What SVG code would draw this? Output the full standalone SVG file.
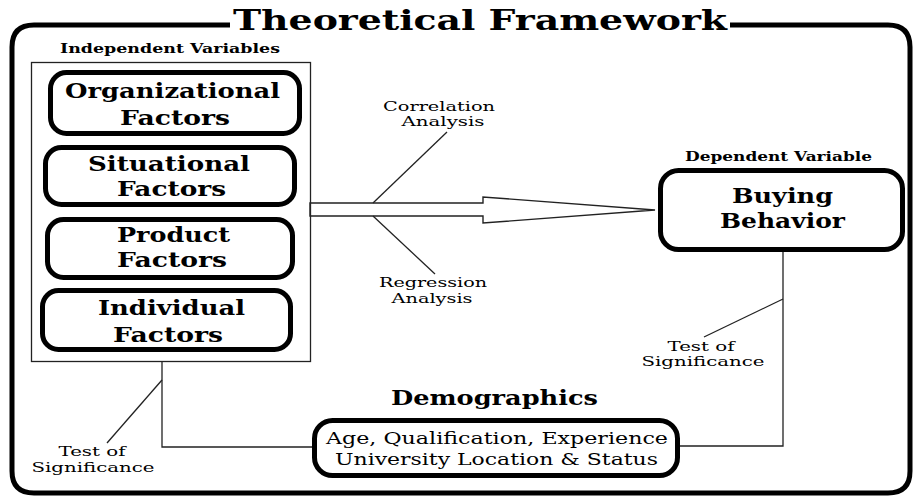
<svg xmlns="http://www.w3.org/2000/svg" width="914" height="496" viewBox="0 0 914 496">
  <style>
    text { font-family: "DejaVu Serif", "Liberation Serif", serif; fill: #000; }
    .title { font-size: 28px; font-weight: bold; }
    .head { font-size: 13px; font-weight: bold; }
    .node-text { font-size: 21px; font-weight: bold; text-anchor: middle; }
    .label { font-size: 13px; text-anchor: middle; }
    .demo { font-size: 17px; text-anchor: middle; }
    .frame { fill: none; stroke: #000; stroke-width: 5; }
    .node { fill: #fff; stroke: #000; stroke-width: 5; }
    .thin { fill: none; stroke: #222; stroke-width: 1.3; }
  </style>

  <!-- outer framework border with a gap for the heading -->
  <g id="frame">
    <path class="frame" d="M230,25 H34 Q12,25 12,47 V471 Q12,493 34,493 H888 Q910,493 910,471 V47 Q910,25 888,25 H730"/>
    <text class="title" x="233" y="30" textLength="494" lengthAdjust="spacingAndGlyphs">Theoretical Framework</text>
  </g>

  <!-- connectors -->
  <g id="connectors">
    <polygon points="310,203 483,203 483,197 655,210 483,223 483,216 310,216" fill="#fff" stroke="#222" stroke-width="1.4" stroke-linejoin="miter"/>
    <line class="thin" x1="373" y1="203" x2="447" y2="132"/>
    <line class="thin" x1="373" y1="216" x2="435" y2="274"/>
    <polyline class="thin" points="162,361 162,447 312,447"/>
    <line class="thin" x1="162" y1="380" x2="107" y2="443"/>
    <polyline class="thin" points="783,252 783,446 680,446"/>
    <line class="thin" x1="783" y1="299" x2="704" y2="337"/>
  </g>

  <!-- connector labels -->
  <g id="labels">
    <text class="label" x="439" y="111" textLength="112" lengthAdjust="spacingAndGlyphs">Correlation</text>
    <text class="label" x="443" y="126" textLength="83" lengthAdjust="spacingAndGlyphs">Analysis</text>
    <text class="label" x="433" y="287" textLength="108" lengthAdjust="spacingAndGlyphs">Regression</text>
    <text class="label" x="432" y="303" textLength="81" lengthAdjust="spacingAndGlyphs">Analysis</text>
    <text class="label" x="701" y="351" textLength="67" lengthAdjust="spacingAndGlyphs">Test of</text>
    <text class="label" x="703" y="366" textLength="123" lengthAdjust="spacingAndGlyphs">Significance</text>
    <text class="label" x="92" y="456" textLength="67" lengthAdjust="spacingAndGlyphs">Test of</text>
    <text class="label" x="93" y="472" textLength="123" lengthAdjust="spacingAndGlyphs">Significance</text>
  </g>

  <!-- independent variables container -->
  <g id="independent">
    <text class="head" x="60" y="53" textLength="220" lengthAdjust="spacingAndGlyphs">Independent Variables</text>
    <rect class="thin" x="31.5" y="62.5" width="279" height="299"/>
  </g>

  <g id="organizational">
    <rect class="node" x="50.5" y="72.5" width="249" height="61" rx="16"/>
    <text class="node-text" x="172.5" y="98" textLength="215" lengthAdjust="spacingAndGlyphs">Organizational</text>
    <text class="node-text" x="175" y="125" textLength="110" lengthAdjust="spacingAndGlyphs">Factors</text>
  </g>

  <g id="situational">
    <rect class="node" x="45.5" y="147.5" width="249" height="57" rx="16"/>
    <text class="node-text" x="169" y="171" textLength="162" lengthAdjust="spacingAndGlyphs">Situational</text>
    <text class="node-text" x="171.5" y="196" textLength="109" lengthAdjust="spacingAndGlyphs">Factors</text>
  </g>

  <g id="product">
    <rect class="node" x="47.5" y="219.5" width="245" height="58" rx="16"/>
    <text class="node-text" x="173.5" y="242" textLength="113" lengthAdjust="spacingAndGlyphs">Product</text>
    <text class="node-text" x="172" y="267" textLength="110" lengthAdjust="spacingAndGlyphs">Factors</text>
  </g>

  <g id="individual">
    <rect class="node" x="42.5" y="290.5" width="248" height="59" rx="16"/>
    <text class="node-text" x="171.5" y="315" textLength="147" lengthAdjust="spacingAndGlyphs">Individual</text>
    <text class="node-text" x="168" y="342" textLength="110" lengthAdjust="spacingAndGlyphs">Factors</text>
  </g>

  <g id="buying-behavior">
    <text class="head" x="685" y="161" textLength="187" lengthAdjust="spacingAndGlyphs">Dependent Variable</text>
    <rect class="node" x="660.5" y="170.5" width="242" height="79" rx="18"/>
    <text class="node-text" x="782.5" y="203" textLength="101" lengthAdjust="spacingAndGlyphs">Buying</text>
    <text class="node-text" x="782.5" y="228" textLength="125" lengthAdjust="spacingAndGlyphs">Behavior</text>
  </g>

  <g id="demographics">
    <text class="node-text" x="494.5" y="405" textLength="207" lengthAdjust="spacingAndGlyphs">Demographics</text>
    <rect class="node" x="314.5" y="420.5" width="363" height="55" rx="18"/>
    <text class="demo" x="497" y="444" textLength="342" lengthAdjust="spacingAndGlyphs">Age, Qualification, Experience</text>
    <text class="demo" x="496.5" y="465" textLength="323" lengthAdjust="spacingAndGlyphs">University Location &amp; Status</text>
  </g>
</svg>
